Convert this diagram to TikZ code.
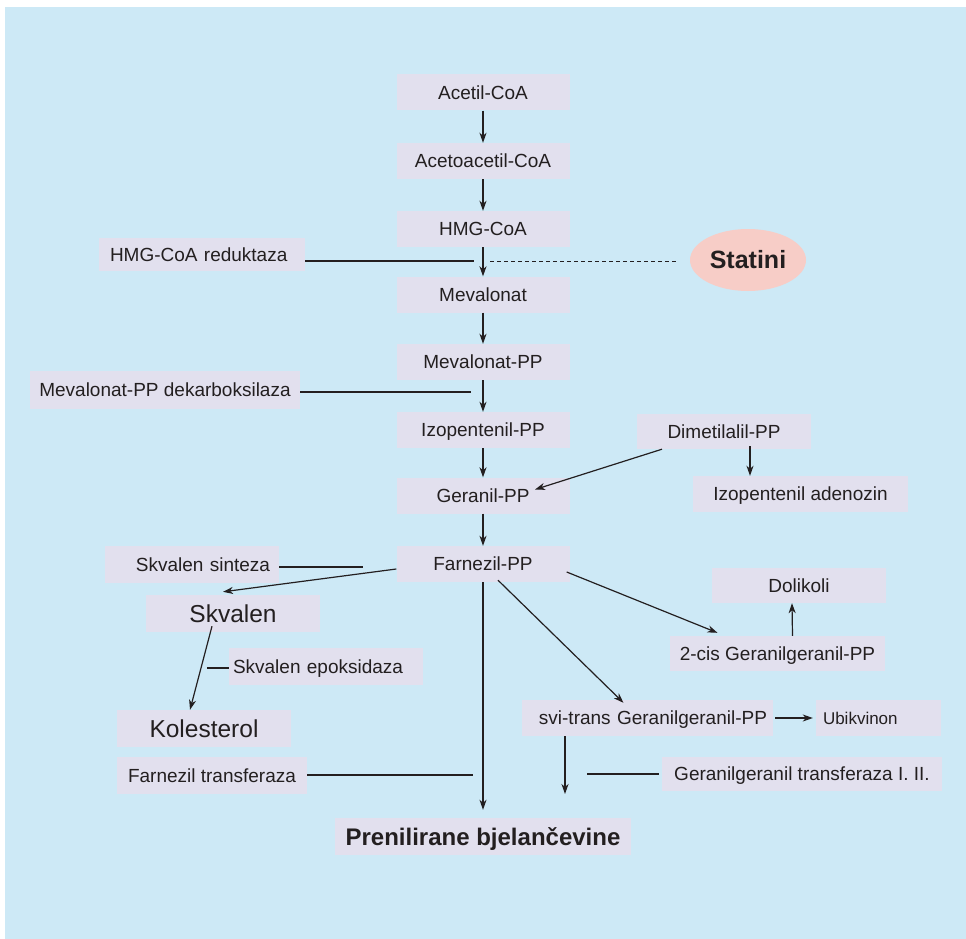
\documentclass[tikz,border=0pt]{standalone}
\usepackage{fontspec}
\setmainfont{Liberation Sans}
\usetikzlibrary{arrows.meta,shapes.geometric}
\definecolor{bgblue}{RGB}{205,233,246}
\definecolor{boxlav}{RGB}{226,224,238}
\definecolor{statpink}{RGB}{247,205,199}
\definecolor{ink}{RGB}{35,31,32}
\tikzset{
  bx/.style={fill=boxlav,inner sep=0pt,text height=13.7pt,text depth=0pt,font=\fontsize{19}{22}\selectfont},
  mainbox/.style={bx,minimum width=173pt,minimum height=36pt},
  bigtxt/.style={font=\fontsize{24.5}{28}\selectfont,text height=17.6pt},
  boldtxt/.style={font=\bfseries\fontsize{24}{28}\selectfont,text height=17.3pt},
  smalltxt/.style={font=\fontsize{17}{20}\selectfont,text height=12.2pt},
  ln/.style={draw=ink,line width=1.2pt},
  arr/.style={draw=ink,line width=1.2pt,-{Stealth[length=10pt,width=7pt,inset=3pt]}}
}
\begin{document}
\begin{tikzpicture}[x=1pt,y=-1pt,every node/.style={text=ink}]
\useasboundingbox (0,0) rectangle (966,939);
\fill[bgblue] (5,7) rectangle (966,939);

% main column
\node[mainbox] (acetil) at (483,92.5) {Acetil-CoA};
\node[mainbox] (acetoac) at (483,161) {Acetoacetil-CoA};
\node[mainbox] (hmg) at (483,229) {HMG-CoA};
\node[mainbox] (mev) at (483,294.5) {Mevalonat};
\node[mainbox] (mevpp) at (483,362) {Mevalonat-PP};
\node[mainbox] (izo) at (483,430) {Izopentenil-PP};
\node[mainbox] (ger) at (483,495.5) {Geranil-PP};
\node[mainbox] (far) at (483,564) {Farnezil-PP};

% side nodes
\node[bx,minimum width=206pt,minimum height=33pt,text width=184pt,align=left] (hmgred) at (202,254.5) {HMG-CoA reduktaza};
\node[ellipse,fill=statpink,minimum width=116pt,minimum height=62pt,inner sep=0pt,
      font=\bfseries\fontsize{25}{28}\selectfont] (statini) at (748,260) {Statini};
\node[bx,minimum width=270pt,minimum height=38pt] (mevdek) at (165,390) {Mevalonat-PP dekarboksilaza};
\node[bx,minimum width=174pt,minimum height=35pt] (dimet) at (724,431.5) {Dimetilalil-PP};
\node[bx,minimum width=215pt,minimum height=36pt] (adeno) at (800.5,494) {Izopentenil adenozin};
\node[bx,minimum width=174pt,minimum height=37pt,text width=156pt,align=right] (sksint) at (192,564.5) {Skvalen sinteza};
\node[bx,bigtxt,minimum width=174pt,minimum height=37pt] (skval) at (233,613.5) {Skvalen};
\node[bx,minimum width=194pt,minimum height=37pt,text width=186pt,align=left] (epoks) at (326,666.5) {Skvalen epoksidaza};
\node[bx,bigtxt,minimum width=174pt,minimum height=37pt] (kolest) at (204,728.5) {Kolesterol};
\node[bx,minimum width=190pt,minimum height=37pt] (fartr) at (212,775.5) {Farnezil transferaza};
\node[bx,minimum width=174pt,minimum height=35pt] (doli) at (799,585.5) {Dolikoli};
\node[bx,minimum width=215pt,minimum height=35pt] (cis) at (777.5,653.5) {2-cis Geranilgeranil-PP};
\node[bx,minimum width=251pt,minimum height=36pt,text width=239pt,align=right] (svi) at (647.5,718) {svi-trans Geranilgeranil-PP};
\node[bx,smalltxt,minimum width=125pt,minimum height=36pt,text width=111pt,align=left] (ubik) at (878.5,718) {Ubikvinon};
\node[bx,minimum width=280pt,minimum height=34pt] (ggtr) at (802,774) {Geranilgeranil transferaza I.\ II.};
\node[bx,boldtxt,minimum width=296pt,minimum height=37pt] (prenil) at (483,836.5) {Prenilirane bjelančevine};

% coordinates for free ends
\coordinate (hmgcut) at (474,261);
\coordinate (statcut) at (490,261);
\coordinate (mevcut) at (471,392);
\coordinate (sscut) at (363,567);
\coordinate (epcut) at (207,668);
\coordinate (ftcut) at (473,775);
\coordinate (ggtip) at (565,794);
\coordinate (ggcut) at (587,774);

% main arrows
\draw[arr] (acetil) -- (acetoac);
\draw[arr] (acetoac) -- (hmg);
\draw[arr] (hmg) -- (mev);
\draw[arr] (mev) -- (mevpp);
\draw[arr] (mevpp) -- (izo);
\draw[arr] (izo) -- (ger);
\draw[arr] (ger) -- (far);
\draw[arr,shorten >=8pt] (far) -- (prenil);

% enzyme lines
\draw[ln] (hmgred.east |- hmgcut) -- (hmgcut);
\draw[draw=ink,line width=1pt,dash pattern=on 4pt off 3pt,shorten >=11pt] (statcut) -- (statini.west |- statcut);
\draw[ln] (mevdek.east |- mevcut) -- (mevcut);
\draw[ln] (sksint.east |- sscut) -- (sscut);
\draw[ln] (epcut) -- (epcut -| epoks.west);
\draw[ln] (fartr.east |- ftcut) -- (ftcut);
\draw[ln,shorten >=3pt] (ggcut) -- (ggcut -| ggtr.west);

% branch arrows
\draw[arr] ([xshift=-62pt]dimet.south) -- ([xshift=52pt,yshift=6pt]ger.center);
\draw[arr] ([xshift=26pt,yshift=3pt]dimet.south) -- ([xshift=-50.5pt]adeno.north);
\draw[arr] ([yshift=-5pt]far.west) -- ([xshift=-10pt,yshift=3pt]skval.north);
\draw[arr] ([xshift=-21pt,yshift=6pt]skval.south) -- ([xshift=-14pt]kolest.north);
\draw[arr] ([xshift=15pt,yshift=2pt]far.south) -- ([xshift=-24pt,yshift=-3pt]svi.north);
\draw[arr] ([xshift=-3pt,yshift=-8pt]far.east) -- ([xshift=-60pt,yshift=3pt]cis.north);
\draw[arr] ([xshift=15pt]cis.north) -- ([xshift=-7pt]doli.south);
\draw[arr,shorten <=2pt,shorten >=3pt] (svi.east) -- (ubik.west);
\draw[arr] (svi.south -| ggtip) -- (ggtip);
\end{tikzpicture}
\end{document}
